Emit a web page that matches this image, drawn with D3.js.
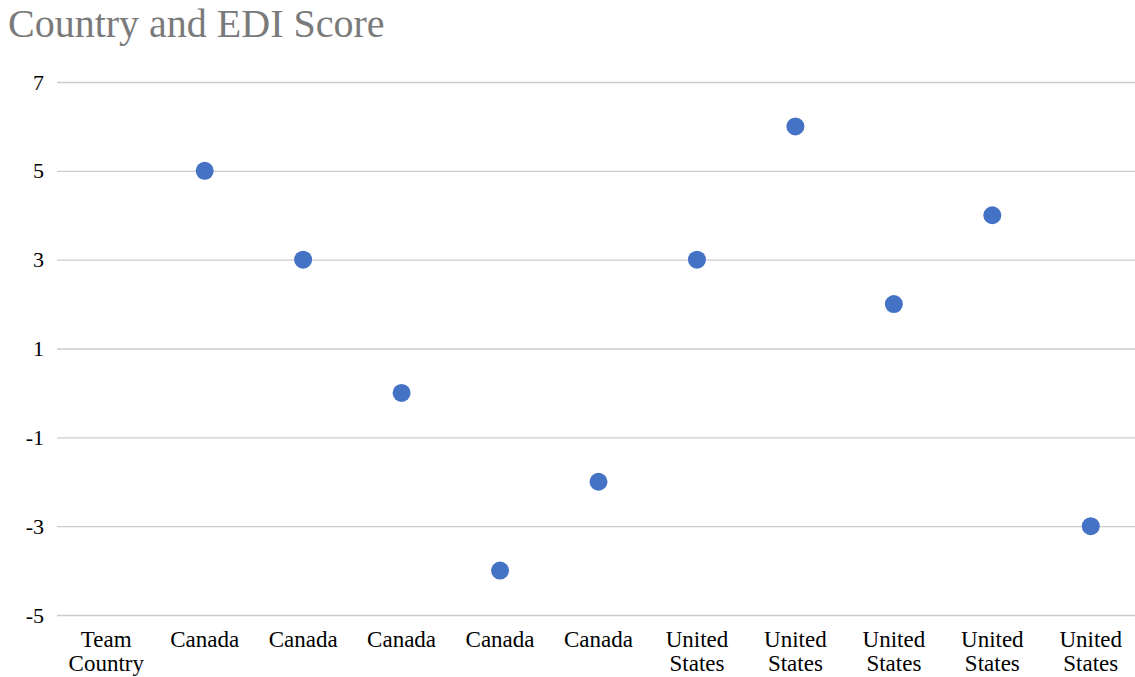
<!DOCTYPE html>
<html><head><meta charset="utf-8">
<script src="https://cdn.jsdelivr.net/npm/d3@7"></script>
<style>body{margin:0;background:#fff;} svg{display:block;}</style>
</head><body>
<svg id="c" width="1135" height="677"></svg>
<script>
(function(){
const categories = ["Team Country","Canada","Canada","Canada","Canada","Canada","United States","United States","United States","United States","United States"];
const scores = [null,5,3,0,-4,-2,3,6,2,4,-3];
const yTicks = [7,5,3,1,-1,-3,-5];
const title = "Country and EDI Score";

const svg = d3.select("#c");
const font = "'Liberation Serif','Times New Roman',serif";
const mLeft = 57, mRight = 1140, mTop = 82, mBottom = 615;
const idx = categories.map((d,i)=>i);
const x = d3.scaleBand().domain(idx).range([mLeft,mRight]);
const y = d3.scaleLinear().domain([-5,7]).range([mBottom,mTop]);

svg.append("text").attr("x",8).attr("y",37).attr("font-family",font).attr("font-size",40)
  .attr("fill","#7a7a7a").text(title);

const yAxis = d3.axisLeft(y).tickValues(yTicks).tickSize(-(1135-mLeft)).tickFormat(d=>String(d));
const gy = svg.append("g").attr("transform",`translate(${mLeft},0)`).call(yAxis);
gy.select(".domain").remove();
gy.selectAll(".tick line").attr("stroke","#cccccc").attr("stroke-width",1.3);
gy.selectAll(".tick text").attr("x",-13).attr("font-family",font).attr("font-size",22).attr("fill","#000");

const xAxis = d3.axisBottom(x).tickSize(0).tickFormat(i=>categories[i]);
const gx = svg.append("g").attr("transform",`translate(0,${mBottom})`).call(xAxis);
gx.select(".domain").remove();
gx.selectAll(".tick text").attr("font-family",font).attr("font-size",23).attr("fill","#000")
  .attr("dy",null)
  .each(function(i){
    const t = d3.select(this); const words = categories[i].split(" ");
    t.text(null);
    words.forEach((w,k)=>{
      t.append("tspan").attr("x",0).attr("y",32 + k*24).text(w);
    });
  });

svg.append("g").selectAll("circle").data(idx.filter(i=>scores[i]!==null)).join("circle")
  .attr("cx",i=>x(i)+x.bandwidth()/2).attr("cy",i=>y(scores[i])).attr("r",9)
  .attr("fill","#4472c4");
})();
</script>
</body></html>
